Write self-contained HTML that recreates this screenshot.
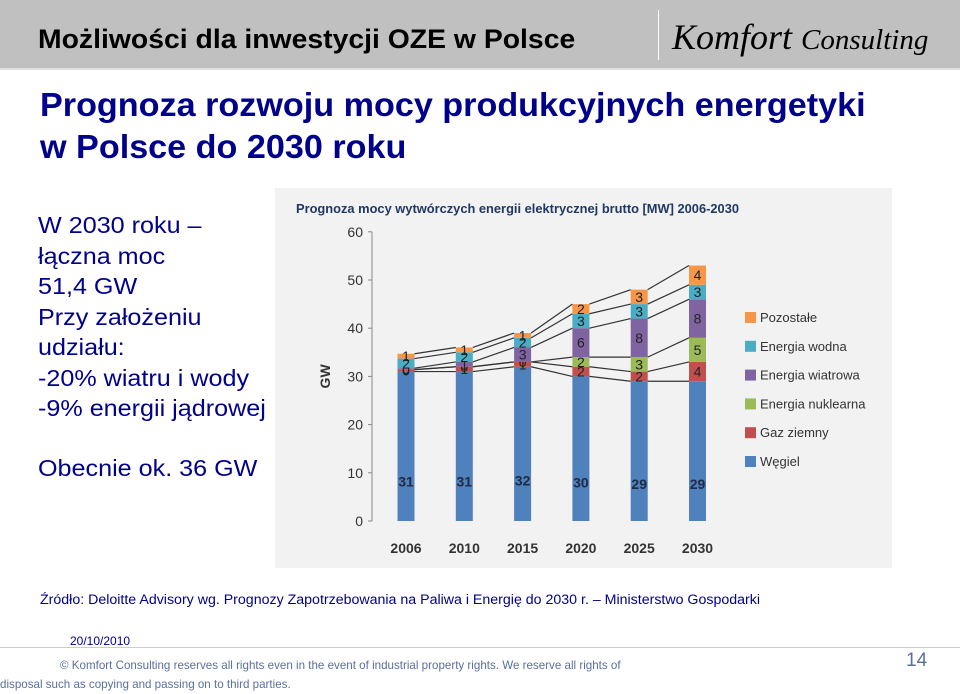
<!DOCTYPE html>
<html><head><meta charset="utf-8"><style>
body{margin:0;width:960px;height:689px;background:#fff;position:relative;overflow:hidden;font-family:"Liberation Sans",sans-serif}
.a{position:absolute}
</style></head><body>
<div class="a" style="left:0;top:0;width:960px;height:68px;background:#c0c0c0;border-bottom:2px solid #e0e0e0"></div>
<div class="a" style="left:38px;top:24px;font-size:27px;font-weight:bold;color:#000;transform:scaleX(1.05);transform-origin:left">Możliwości dla inwestycji OZE w Polsce</div>
<div class="a" style="left:658px;top:10px;width:1px;height:50px;background:#fff"></div>
<div class="a" style="left:672px;top:16px;font-family:'Liberation Serif',serif;font-style:italic;font-size:36px;color:#000">Komfort <span style="font-size:29px">Consulting</span></div>
<div class="a" style="left:40px;top:84px;font-size:33px;font-weight:bold;color:#00008b;line-height:42px;transform:scaleX(1.035);transform-origin:left">Prognoza rozwoju mocy produkcyjnych energetyki<br>w Polsce do 2030 roku</div>
<div class="a" style="left:38px;top:210px;font-size:23.5px;color:#00008b;line-height:30.5px;white-space:nowrap;transform:scaleX(1.07);transform-origin:left">W 2030 roku –<br>łączna moc<br>51,4 GW<br>Przy założeniu<br>udziału:<br>-20% wiatru i wody<br>-9% energii jądrowej<br><div style="height:29px"></div>Obecnie ok. 36 GW</div>
<svg class="a" style="left:275px;top:188px" width="617" height="380">
<rect width="617" height="380" fill="#f2f2f2"/>
<text x="21" y="25" font-size="13" font-weight="bold" fill="#1f3864" font-family="Liberation Sans" textLength="443" lengthAdjust="spacingAndGlyphs">Prognoza mocy wytwórczych energii elektrycznej brutto [MW] 2006-2030</text>
<g id="g"></g>
</svg>
<div class="a" style="left:40px;top:592px;font-size:14.2px;color:#00008b;white-space:nowrap">Źródło: Deloitte Advisory wg. Prognozy Zapotrzebowania na Paliwa i Energię do 2030 r. – Ministerstwo Gospodarki</div>
<div class="a" style="left:70px;top:634px;font-size:12px;color:#00008b">20/10/2010</div>
<div class="a" style="left:0;top:647px;width:960px;height:1px;background:#ccc"></div>
<div class="a" style="left:60px;top:656px;font-size:11.6px;color:#5a6fa0;line-height:19px;white-space:nowrap">© Komfort Consulting reserves all rights even in the event of industrial property rights. We reserve all rights of<br><span style="margin-left:-60px">disposal such as copying and passing on to third parties.</span></div>
<div class="a" style="left:906px;top:650px;font-size:19px;color:#5a6fa0">14</div>
<script>
const years=["2006","2010","2015","2020","2025","2030"];
const wegiel=[31,31,32,30,29,29];
const gaz=[0.4,1,1,2,2,4];
const nukl=[0,0,0,2,3,5];
const wiatr=[0.3,1,3,6,8,8];
const woda=[2,2,2,3,3,3];
const poz=[1,1,1,2,3,4];
const yTicks=[0,10,20,30,40,50,60];
const seriesNames=["Węgiel","Gaz ziemny","Energia nuklearna","Energia wiatrowa","Energia wodna","Pozostałe"];
const colors=["#4f81bd","#c0504d","#9bbb59","#8064a2","#4bacc6","#f79646"];
const series=[wegiel,gaz,nukl,wiatr,woda,poz];
const ns="http://www.w3.org/2000/svg",g=document.getElementById('g');
const y=v=>333-v*4.82, x=i=>131+i*58.3, bw=17;
function mk(t,a){const e=document.createElementNS(ns,t);for(const k in a)e.setAttribute(k,a[k]);g.appendChild(e);return e;}
let ax=mk('line',{x1:97,x2:97,y1:y(60),y2:y(0),stroke:'#888'});

yTicks.forEach(t=>{let l=mk('line',{x1:93,x2:97,y1:y(t),y2:y(t),stroke:'#888'});
let tx=mk('text',{x:88,y:y(t)+5,'text-anchor':'end','font-size':14,fill:'#333','font-family':'Liberation Sans'});tx.textContent=t;});
let yt=mk('text',{x:0,y:0,'font-size':14,'font-weight':'bold',fill:'#333',transform:`translate(55,${y(30)}) rotate(-90)`,'text-anchor':'middle','font-family':'Liberation Sans'});yt.textContent='GW';
const cum=years.map((_,i)=>{let c=[0];series.forEach(s=>c.push(c[c.length-1]+s[i]));return c;});
years.forEach((yr,i)=>{
 series.forEach((s,k)=>{const b=cum[i][k],t=cum[i][k+1];
  let r=mk('rect',{x:x(i)-bw/2,y:y(t),width:bw,height:y(b)-y(t),fill:colors[k]});
  let v=Math.round(s[i]);
  let tx=mk('text',{x:x(i),y:k==0?y(b+s[i]*0.23):y((b+t)/2)+5,'text-anchor':'middle','font-size':14,'font-weight':k==0?'bold':'normal',fill:k==0?'#1f2a44':'#222','font-family':'Liberation Sans'});tx.textContent=v;
 });
 let xl=mk('text',{x:x(i),y:365,'text-anchor':'middle','font-size':14,'font-weight':'bold',fill:'#333','font-family':'Liberation Sans'});xl.textContent=yr;
});
for(let k=1;k<=6;k++)for(let i=0;i<years.length-1;i++){let l=mk('line',{x1:x(i)+bw/2,y1:y(cum[i][k]),x2:x(i+1)-bw/2,y2:y(cum[i+1][k]),stroke:'#333','stroke-width':1.2});}
seriesNames.forEach((n,k)=>{const yy=130+(5-k)*28.8;
 let r=mk('rect',{x:470,y:yy-6,width:11,height:11,fill:colors[k]});
 let t=mk('text',{x:485,y:yy+4,'font-size':13,fill:'#333','font-family':'Liberation Sans'});t.textContent=n;});
</script>
</body></html>
